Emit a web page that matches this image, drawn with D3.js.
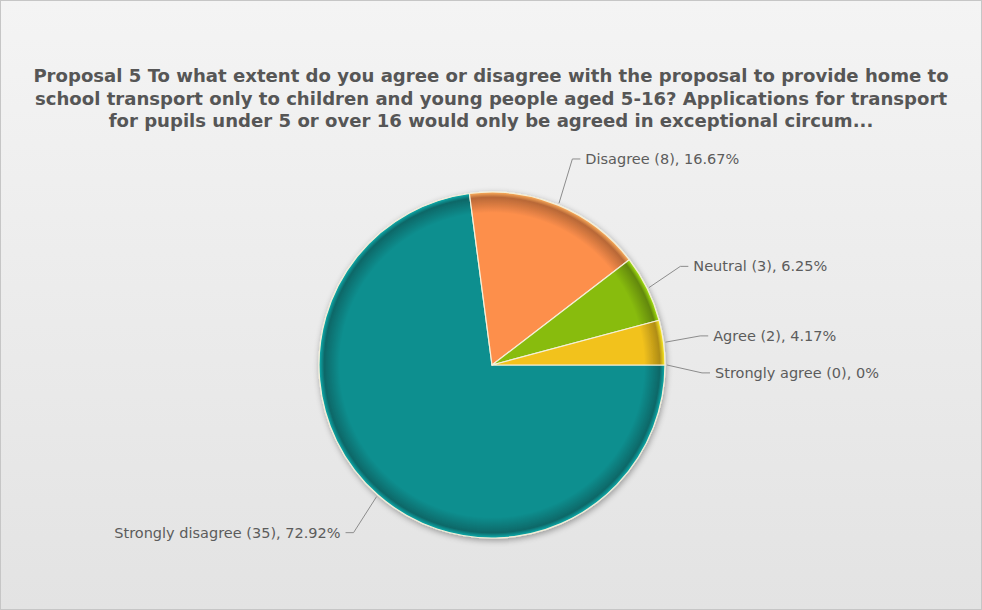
<!DOCTYPE html>
<html>
<head>
<meta charset="utf-8">
<style>
    body { margin: 0; background: #fff; }
    svg { display: block; font-family: "DejaVu Sans", Verdana, sans-serif; }
    .title { font-weight: bold; fill: #565656; }
    .lbl { fill: #5c5c5c; }
</style>
</head>
<body>
<svg width="982" height="610"></svg>
<script src="https://d3js.org/d3.v7.min.js"></script>
<script>
    // data (clockwise from 3 o'clock)
    var categories = ["Strongly disagree", "Disagree", "Neutral", "Agree", "Strongly agree"];
    var counts = [35, 8, 3, 2, 0];
    var percents = ["72.92%", "16.67%", "6.25%", "4.17%", "0%"];
    var colors = ["#0e8f8f", "#fd8f4c", "#88bc10", "#f2c21e", "#0e8f8f"];
    var titleLines = [
        "Proposal 5 To what extent do you agree or disagree with the proposal to provide home to",
        "school transport only to children and young people aged 5-16? Applications for transport",
        "for pupils under 5 or over 16 would only be agreed in exceptional circum..."
    ];

    var svg = d3.select("svg"),
        width = +svg.attr("width"),
        height = +svg.attr("height"),
        cx = 492, cy = 365, radius = 173;

    var defs = svg.append("defs");

    var bg = defs.append("linearGradient").attr("id", "bg")
        .attr("x1", 0).attr("y1", 0).attr("x2", 0).attr("y2", 1);
    bg.append("stop").attr("offset", 0).attr("stop-color", "#f4f4f4");
    bg.append("stop").attr("offset", 1).attr("stop-color", "#e3e3e3");

    svg.append("rect")
        .attr("x", 0.5).attr("y", 0.5)
        .attr("width", width - 1).attr("height", height - 1)
        .attr("fill", "url(#bg)")
        .attr("stroke", "#c6c6c6");

    // title, sized so the first line spans about 916px like the original
    var title = svg.append("g").selectAll("text")
        .data(titleLines)
        .enter().append("text")
        .attr("class", "title")
        .attr("x", width / 2)
        .attr("y", function (d, i) { return 82 + i * 22.5; })
        .attr("text-anchor", "middle")
        .style("font-size", "16px")
        .text(function (d) { return d; });
    var w0 = title.node().getComputedTextLength();
    title.style("font-size", (16 * 916 / w0) + "px");

    // soft shadow behind the pie
    var shadow = defs.append("filter").attr("id", "shadow")
        .attr("x", "-20%").attr("y", "-20%").attr("width", "140%").attr("height", "140%");
    shadow.append("feGaussianBlur").attr("in", "SourceAlpha").attr("stdDeviation", 3);
    shadow.append("feOffset").attr("dx", 1).attr("dy", 2).attr("result", "b");
    shadow.append("feComponentTransfer").append("feFuncA").attr("type", "linear").attr("slope", 0.35);
    var merge = shadow.append("feMerge");
    merge.append("feMergeNode");
    merge.append("feMergeNode").attr("in", "SourceGraphic");

    // rim shading per slice colour
    colors.forEach(function (c, i) {
        var g = defs.append("radialGradient").attr("id", "shade" + i)
            .attr("gradientUnits", "userSpaceOnUse")
            .attr("cx", 0).attr("cy", 0).attr("r", radius);
        var dark = d3.color(c).darker(0.9);
        g.append("stop").attr("offset", 0).attr("stop-color", c);
        g.append("stop").attr("offset", 0.88).attr("stop-color", c);
        g.append("stop").attr("offset", 0.97).attr("stop-color", dark);
        g.append("stop").attr("offset", 1).attr("stop-color", d3.color(c).brighter(0.6));
    });

    var data = categories.map(function (c, i) {
        return { name: c, count: counts[i], pct: percents[i], i: i };
    });

    var pie = d3.pie()
        .sort(null)
        .value(function (d) { return d.count; })
        .startAngle(Math.PI / 2)
        .endAngle(Math.PI / 2 + 2 * Math.PI);

    var arcs = pie(data);
    var arc = d3.arc().innerRadius(0).outerRadius(radius);

    var g = svg.append("g").attr("transform", "translate(" + cx + "," + cy + ")");

    g.append("g").attr("filter", "url(#shadow)")
        .selectAll("path")
        .data(arcs.filter(function (d) { return d.data.count > 0; }))
        .enter().append("path")
        .attr("d", arc)
        .attr("fill", function (d) { return "url(#shade" + d.data.i + ")"; })
        .attr("stroke", "#f5f0d8")
        .attr("stroke-width", 1.2)
        .attr("stroke-linejoin", "round");

    // labels with leader lines (elbows sit on a slightly tall ellipse)
    var elbowRx = 210, elbowRy = 223;
    var labels = arcs.map(function (d) {
        var a = (d.startAngle + d.endAngle) / 2;
        return {
            d: d,
            side: Math.sin(a) >= 0 ? 1 : -1,
            x0: Math.sin(a) * (radius + 2),
            y0: -Math.cos(a) * (radius + 2),
            x1: Math.sin(a) * elbowRx,
            y1: -Math.cos(a) * elbowRy
        };
    });

    // push overlapping labels apart on each side
    [1, -1].forEach(function (s) {
        var side = labels.filter(function (l) { return l.side === s; })
            .sort(function (a, b) { return a.y1 - b.y1; });
        for (var k = 1; k < side.length; k++) {
            if (side[k].y1 - side[k - 1].y1 < 37) side[k].y1 = side[k - 1].y1 + 37;
        }
    });

    var lg = g.append("g");
    lg.selectAll("polyline")
        .data(labels)
        .enter().append("polyline")
        .attr("points", function (l) {
            return [[l.x0, l.y0], [l.x1, l.y1], [l.x1 + l.side * 8, l.y1]].join(" ");
        })
        .attr("fill", "none")
        .attr("stroke", "#8c8c8c")
        .attr("stroke-width", 1);

    lg.selectAll("text")
        .data(labels)
        .enter().append("text")
        .attr("class", "lbl")
        .attr("x", function (l) { return l.x1 + l.side * 13; })
        .attr("y", function (l) { return l.y1; })
        .attr("dy", "0.35em")
        .attr("text-anchor", function (l) { return l.side > 0 ? "start" : "end"; })
        .style("font-size", "14.5px")
        .text(function (l) { return l.d.data.name + " (" + l.d.data.count + "), " + l.d.data.pct; });
</script>
</body>
</html>
